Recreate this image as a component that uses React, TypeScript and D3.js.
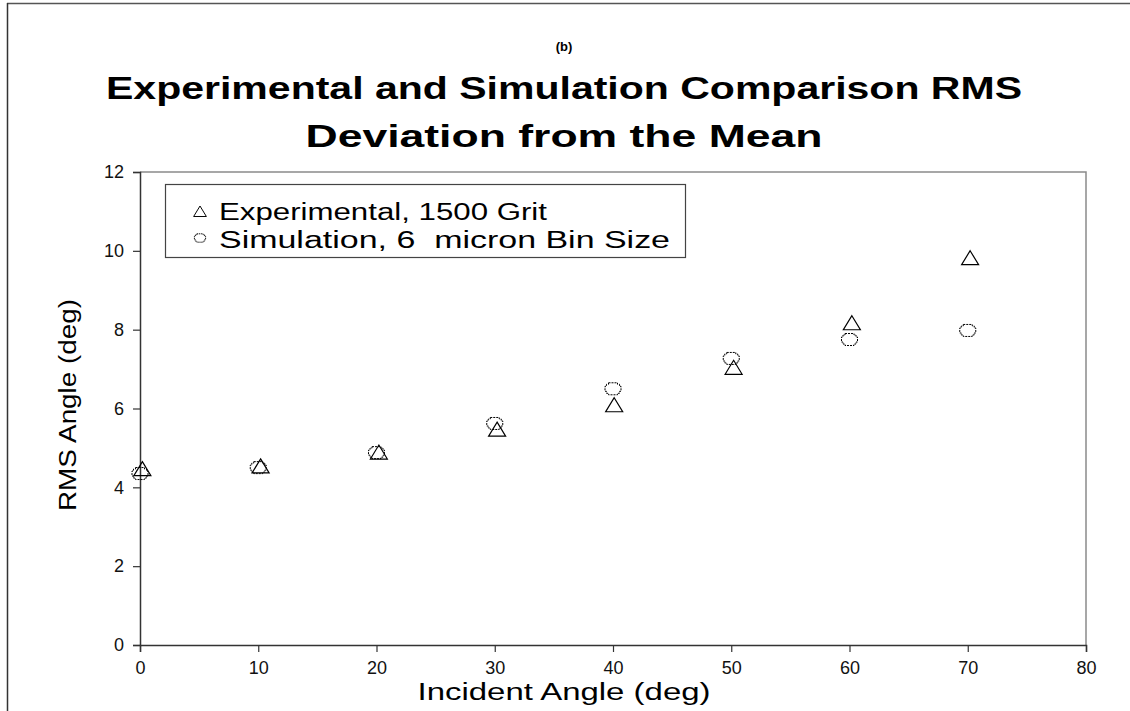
import React, { useRef, useEffect } from 'react';
import * as d3 from 'd3';

const expAngles = [0.2, 10.2, 20.2, 30.2, 40.1, 50.2, 60.2, 70.2];
const expRms = [4.45, 4.52, 4.87, 5.45, 6.07, 7.02, 8.15, 9.8];
const simAngles = [0, 10, 20, 30, 40, 50, 60, 70];
const simRms = [4.35, 4.5, 4.88, 5.62, 6.5, 7.27, 7.75, 7.98];
const xTicks = [0, 10, 20, 30, 40, 50, 60, 70, 80];
const yTicks = [0, 2, 4, 6, 8, 10, 12];

const FONT = '"Liberation Sans", Arial, Helvetica, sans-serif';
const W = 1130;
const H = 711;
const margin = { left: 140, right: 44, top: 172, bottom: 66 };

const triPath = 'M0,-8L8.5,6L-8.5,6Z';
// stepped "octagon" marker like the old plotting package draws it
const octPath = 'M-4.5,-6H4.5V-4.5H6.5V-2.5H8V2.5H6.5V4.5H4.5V6H-4.5V4.5H-6.5V2.5H-8V-2.5H-6.5V-4.5H-4.5Z';

const App: React.FC = () => {
    const ref = useRef<SVGSVGElement>(null);

    useEffect(() => {
        if (!ref.current) return;
        const svg = d3.select(ref.current);
        svg.selectAll('*').remove();

        const x = d3.scaleLinear().domain([0, 80]).range([margin.left, W - margin.right]);
        const y = d3.scaleLinear().domain([0, 12]).range([H - margin.bottom, margin.top]);

        svg.append('rect').attr('width', W).attr('height', H).attr('fill', '#fff');

        // outer frame
        svg.append('line').attr('x1', 7).attr('x2', W).attr('y1', 3.5).attr('y2', 3.5)
            .attr('stroke', '#555').attr('stroke-width', 1.5);
        svg.append('line').attr('x1', 7.5).attr('x2', 7.5).attr('y1', 3).attr('y2', H)
            .attr('stroke', '#333').attr('stroke-width', 1.5);

        // plot frame top / right
        svg.append('path')
            .attr('d', `M${x(0)},${y(12)}H${x(80)}V${y(0)}`)
            .attr('fill', 'none').attr('stroke', '#8a8a8a').attr('stroke-width', 1.5);

        const xAxis = svg.append('g')
            .attr('transform', `translate(0,${y(0)})`)
            .call(d3.axisBottom(x).tickValues(xTicks).tickSize(7).tickPadding(9).tickFormat(d3.format('d')));
        const yAxis = svg.append('g')
            .attr('transform', `translate(${x(0)},0)`)
            .call(d3.axisLeft(y).tickValues(yTicks).tickSize(7).tickPadding(9).tickFormat(d3.format('d')));

        [xAxis, yAxis].forEach(g => {
            g.select('.domain').attr('stroke', '#333').attr('stroke-width', 1.5);
            g.selectAll('.tick line').attr('stroke', '#333').attr('stroke-width', 1.2);
            g.selectAll('.tick text').attr('fill', '#111')
                .style('font-size', '18px').style('font-family', FONT);
        });

        // points
        svg.append('g').selectAll('path')
            .data(simAngles.map((a, i) => [a, simRms[i]]))
            .enter().append('path')
            .attr('d', octPath)
            .attr('transform', d => `translate(${x(d[0])},${y(d[1])})`)
            .attr('fill', 'none').attr('stroke', '#000').attr('stroke-width', 1)
            .attr('stroke-dasharray', '2 1');

        svg.append('g').selectAll('path')
            .data(expAngles.map((a, i) => [a, expRms[i]]))
            .enter().append('path')
            .attr('d', triPath)
            .attr('transform', d => `translate(${x(d[0])},${y(d[1])})`)
            .attr('fill', 'none').attr('stroke', '#000').attr('stroke-width', 1.2);

        // legend
        const lg = svg.append('g');
        lg.append('rect').attr('x', 165.5).attr('y', 184.5).attr('width', 520).attr('height', 73)
            .attr('fill', '#fff').attr('stroke', '#444').attr('stroke-width', 1.2);
        lg.append('path').attr('d', triPath).attr('transform', 'translate(200,212) scale(0.75)')
            .attr('fill', 'none').attr('stroke', '#000').attr('stroke-width', 1.3);
        lg.append('path').attr('d', octPath).attr('transform', 'translate(200,238) scale(0.7)')
            .attr('fill', 'none').attr('stroke', '#000').attr('stroke-width', 1.3)
            .attr('stroke-dasharray', '2 1');
        lg.append('text').attr('x', 219).attr('y', 220).attr('font-size', 23)
            .attr('textLength', 328).attr('lengthAdjust', 'spacingAndGlyphs')
            .text('Experimental, 1500 Grit');
        lg.append('text').attr('x', 219).attr('y', 248).attr('font-size', 23)
            .attr('textLength', 451).attr('lengthAdjust', 'spacingAndGlyphs')
            .attr('style', 'white-space: pre')
            .text('Simulation, 6  micron Bin Size');
        lg.selectAll('text').attr('font-family', FONT).attr('fill', '#000');

        // titles
        const cx = 564;
        svg.append('text').attr('x', cx).attr('y', 51).attr('text-anchor', 'middle')
            .attr('font-family', FONT).attr('font-size', 13).attr('font-weight', 'bold')
            .text('(b)');
        svg.append('text').attr('x', cx).attr('y', 99).attr('text-anchor', 'middle')
            .attr('font-family', FONT).attr('font-size', 31).attr('font-weight', 'bold')
            .attr('textLength', 916).attr('lengthAdjust', 'spacingAndGlyphs')
            .text('Experimental and Simulation Comparison RMS');
        svg.append('text').attr('x', cx).attr('y', 147).attr('text-anchor', 'middle')
            .attr('font-family', FONT).attr('font-size', 31).attr('font-weight', 'bold')
            .attr('textLength', 517).attr('lengthAdjust', 'spacingAndGlyphs')
            .text('Deviation from the Mean');

        // axis titles
        svg.append('text').attr('x', 564).attr('y', 700).attr('text-anchor', 'middle')
            .attr('font-family', FONT).attr('font-size', 23)
            .attr('textLength', 293).attr('lengthAdjust', 'spacingAndGlyphs')
            .text('Incident Angle (deg)');
        svg.append('text').attr('transform', 'translate(76,405) rotate(-90)')
            .attr('text-anchor', 'middle')
            .attr('font-family', FONT).attr('font-size', 23)
            .attr('textLength', 212).attr('lengthAdjust', 'spacingAndGlyphs')
            .text('RMS Angle (deg)');
    }, []);

    return (
        <svg ref={ref} width={W} height={H}
            style={{ position: 'absolute', left: 0, top: 0, display: 'block' }} />
    );
};

export default App;
